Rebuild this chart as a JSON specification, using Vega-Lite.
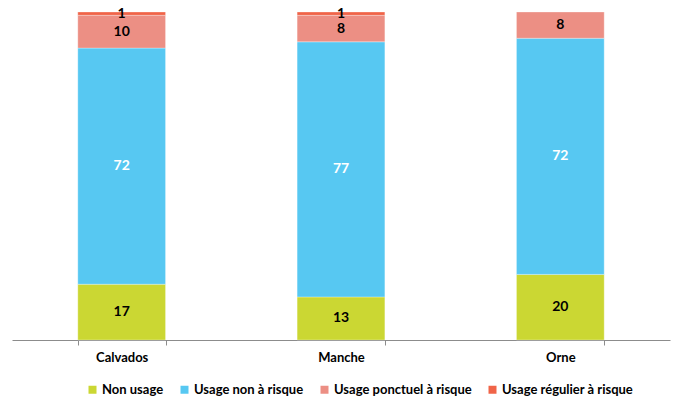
{
  "$schema": "https://vega.github.io/schema/vega-lite/v6.json",
  "width": 658,
  "height": 328,
  "autosize": "none",
  "padding": {"left": 12, "top": 12, "right": 3, "bottom": 59},
  "background": "white",
  "config": {
    "view": {"stroke": null},
    "font": "Lato"
  },
  "data": {
    "values": [
      {"dep": "Calvados", "type": "Non usage", "pct": 17},
      {"dep": "Calvados", "type": "Usage non à risque", "pct": 72},
      {"dep": "Calvados", "type": "Usage ponctuel à risque", "pct": 10},
      {"dep": "Calvados", "type": "Usage régulier à risque", "pct": 1},
      {"dep": "Manche", "type": "Non usage", "pct": 13},
      {"dep": "Manche", "type": "Usage non à risque", "pct": 77},
      {"dep": "Manche", "type": "Usage ponctuel à risque", "pct": 8},
      {"dep": "Manche", "type": "Usage régulier à risque", "pct": 1},
      {"dep": "Orne", "type": "Non usage", "pct": 20},
      {"dep": "Orne", "type": "Usage non à risque", "pct": 72},
      {"dep": "Orne", "type": "Usage ponctuel à risque", "pct": 8}
    ]
  },
  "encoding": {
    "x": {
      "field": "dep",
      "type": "nominal",
      "sort": ["Calvados", "Manche", "Orne"],
      "scale": {"paddingInner": 0.6, "paddingOuter": 0.3},
      "axis": {
        "title": null,
        "labelAngle": 0,
        "labelFont": "Lato",
        "labelFontSize": 13,
        "labelFontWeight": "bold",
        "labelColor": "black",
        "labelPadding": 6,
        "domainColor": "#8c8c8c",
        "tickColor": "#8c8c8c",
        "tickSize": 5,
        "tickBand": "extent"
      }
    },
    "y": {
      "field": "pct",
      "type": "quantitative",
      "stack": "normalize",
      "axis": null
    },
    "order": {"field": "type", "sort": "ascending"}
  },
  "layer": [
    {
      "mark": {"type": "bar", "stroke": "white", "strokeWidth": 0.5, "strokeOpacity": 0.6},
      "encoding": {
        "color": {
          "field": "type",
          "type": "nominal",
          "scale": {
            "domain": ["Non usage", "Usage non à risque", "Usage ponctuel à risque", "Usage régulier à risque"],
            "range": ["#cbd733", "#57c8f2", "#ec8f84", "#f06448"]
          },
          "legend": {
            "title": null,
            "orient": "none",
            "direction": "horizontal",
            "legendX": 74,
            "legendY": 371,
            "symbolType": "square",
            "symbolSize": 64,
            "symbolStrokeWidth": 0,
            "labelFont": "Lato",
            "labelFontSize": 13,
            "labelFontWeight": "bold",
            "labelColor": "black",
            "labelOffset": 3,
            "columnPadding": 14
          }
        }
      }
    },
    {
      "mark": {"type": "text", "font": "Lato", "fontSize": 14, "fontWeight": "bold", "baseline": "middle"},
      "encoding": {
        "y": {"field": "pct", "type": "quantitative", "stack": "normalize", "bandPosition": 0.5},
        "text": {"field": "pct", "type": "quantitative"},
        "color": {
          "condition": {"test": "datum.type === 'Usage non à risque'", "value": "white"},
          "value": "black"
        },
        "detail": {"field": "type"}
      }
    }
  ]
}
